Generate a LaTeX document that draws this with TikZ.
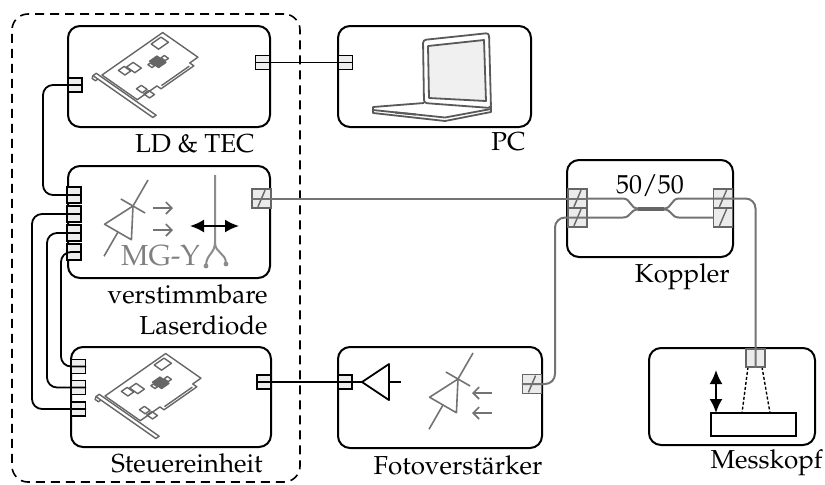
\documentclass[tikz,border=0pt]{standalone}
\usepackage[T1]{fontenc}
\usepackage{mathpazo}
\usetikzlibrary{arrows.meta}

\tikzset{
  box/.style={draw,line width=1pt,rounded corners=6pt,inner sep=0pt},
  eport/.style={draw,fill=black!7,line width=0.7pt,minimum width=7pt,minimum height=7pt,inner sep=0pt},
  fport/.style={draw=black!60,fill=black!8,line width=0.7pt,minimum width=9.5pt,minimum height=9.5pt,inner sep=0pt},
  fslash/.style={fport,path picture={\draw[black!60,line width=0.7pt]
      ([xshift=-1.8pt,yshift=-4.2pt]path picture bounding box.center) --
      ([xshift=1.8pt,yshift=4.2pt]path picture bounding box.center);}},
  wire/.style={line width=0.9pt,rounded corners=5pt},
  fiber/.style={black!55,line width=1pt,rounded corners=5pt},
  sym/.style={black!55,line width=0.8pt},
  lbl/.style={font=\fontsize{13}{15}\selectfont,inner sep=0pt},
  dblarrow/.style={line width=1pt,{Latex[length=7pt,width=6.5pt]}-{Latex[length=7pt,width=6.5pt]}},
  % plug-in card, drawn in an oblique frame
  pcb/.pic={
    \begin{scope}[x={(0.41pt,0.287pt)},y={(0.41pt,-0.287pt)},color=black!60,line width=0.7pt,line join=round]
      \draw (-6,-5) -- (-2,-5) -- (-2,68) -- (-6,68) -- cycle;
      \draw (-6,-5) -- (-9,-3) -- (-9,1) -- (-6,1);
      \draw (0,0) -- (74,0) -- (74,43) -- (64,43) -- (64,48) -- (24,48) -- (24,43) -- (0,43) -- cycle;
      \draw (27,45.5) -- (61,45.5);
      \draw (57,3) -- (69,3) -- (69,12) -- (57,12) -- cycle;
      \draw (14,6) -- (21,6) -- (21,14) -- (14,14) -- cycle;
      \draw (22,8) -- (30,8) -- (30,18) -- (22,18) -- cycle;
      \draw[fill=black!60] (41,17) -- (50,17) -- (50,28) -- (41,28) -- cycle;
      \draw (37,19) -- (40,19) -- (40,24) -- (37,24) -- cycle;
      \draw (51,21) -- (55,21) -- (55,26) -- (51,26) -- cycle;
      \draw (9,33) -- (15,33) -- (15,40) -- (9,40) -- cycle;
      \draw (9,42) -- (15,42) -- (15,49) -- (9,49) -- cycle;
    \end{scope}
  },
  % diode: tip at the origin, axis along x
  diode/.pic={
    \draw[sym] (-58,0) -- (-30,0) (0,0) -- (30,0);
    \draw[sym] (0,-14) -- (0,14);
    \draw[sym,line join=round] (0,0) -- (-30,-15.5) -- (-30,15.5) -- cycle;
  }
}

\begin{document}
\begin{tikzpicture}[x=0.5pt,y=-0.5pt]
\useasboundingbox (0,0) rectangle (825,484);

% dashed group round the electronics
\node[box,dashed,dash pattern=on 4.5pt off 3pt,line width=0.8pt,rounded corners=8pt,
      minimum width=144pt,minimum height=234pt] (group) at (156,248) {};

% boxes
\node[box,minimum width=101pt,minimum height=50.5pt] (ldtec) at (169,76.5) {};
\node[box,minimum width=96.5pt,minimum height=50.5pt] (pc) at (434.5,76.5) {};
\node[box,minimum width=101pt,minimum height=56pt] (laser) at (169,222) {};
\node[box,minimum width=100pt,minimum height=50pt] (steuer) at (171,397) {};
\node[box,minimum width=102pt,minimum height=50.5pt] (foto) at (440,397.5) {};
\node[box,minimum width=83pt,minimum height=48.5pt] (kop) at (650,208.5) {};
\node[box,minimum width=83pt,minimum height=48.5pt] (mess) at (732,396.5) {};

% cards
\pic at (102,75) {pcb};
\pic at (105,396) {pcb};

% laptop
\begin{scope}[black!65,line width=0.9pt,line join=round]
  \draw[rounded corners=1.5pt] (423,40) -- (489,33) -- (491,108) -- (424,103) -- cycle;
  \draw[fill=black!6] (428,46) -- (484,40) -- (486,101) -- (429,98) -- cycle;
  \draw (424,103) -- (373,107) -- (373,113) -- (445,121) -- (491,112) -- (491,106);
  \draw (373,110) -- (445,117.5) -- (491,109);
  \fill (395,111.5) -- (416,113.5) -- (416,115.5) -- (395,113.5) -- cycle;
\end{scope}

% tunable laser
\pic[rotate=60] at (133,206) {diode};
\draw[sym,-{Straight Barb[length=3pt,width=6pt]}] (153,208) -- (173,208);
\draw[sym,-{Straight Barb[length=3pt,width=6pt]}] (153,230) -- (173,230);
\draw[black!45,line width=1pt] (215,175) -- (215,242)
  .. controls (215,254) and (206,254) .. (206,266);
\draw[black!45,line width=1pt] (215,242) .. controls (215,254) and (226,252) .. (226,264);
\fill[black!45] (206,266) circle (1.2pt) (226,264) circle (1.2pt);
\draw[dblarrow] (190,226) -- (239,226);
\node[lbl,anchor=base,text=black!50,font=\fontsize{14.5}{16}\selectfont] (mgy) at (160.5,265) {MG-Y};

% photo receiver
\pic[rotate=60] at (458,379) {diode};
\draw[sym,-{Straight Barb[length=3pt,width=6pt]}] (492,393) -- (472,393);
\draw[sym,-{Straight Barb[length=3pt,width=6pt]}] (492,413) -- (472,413);
\coordinate (amp) at (362,382);
\draw[line width=0.9pt,line join=round] (amp) -- (389,364) -- (389,400) -- cycle;
\draw[line width=0.9pt] (389,382) -- (401,382);

% measuring head
\node[draw,line width=0.8pt,minimum width=42.5pt,minimum height=11.5pt,inner sep=0pt] (sample) at (753.5,424.5) {};
\draw[dashed,dash pattern=on 1.5pt off 1pt,line width=0.7pt] (748,367) -- (742,413) (762,367) -- (770,413);
\draw[dblarrow] (716,370) -- (716,413);

% plugs
\node[eport] (ldtec_r) at (262.5,62.5) {};
\node[eport] (ldtec_l) at (75,85) {};
\node[eport] (pc_l) at (345.5,62.5) {};
\node[eport,minimum height=8pt] (laser_l1) at (74,195) {};
\node[eport,minimum height=8pt] (laser_l2) at (74,214) {};
\node[eport,minimum height=8pt] (laser_l3) at (74,233) {};
\node[eport,minimum height=8pt] (laser_l4) at (74,252) {};
\node[eport] (steuer_l1) at (78.5,366.5) {};
\node[eport] (steuer_l2) at (78.5,387.5) {};
\node[eport] (steuer_l3) at (78.5,409) {};
\node[eport] (steuer_r) at (264,382) {};
\node[eport] (foto_l) at (345,382) {};

% fibre plugs
\node[fslash] (laser_r) at (261.5,198.5) {};
\node[fslash] (kop_l1) at (577.5,198.5) {};
\node[fslash] (kop_l2) at (577.5,217.5) {};
\node[fslash] (kop_r1) at (723,198.5) {};
\node[fslash] (kop_r2) at (723,217.5) {};
\node[fslash] (foto_r) at (532,384) {};
\node[fport,minimum height=9pt] (mess_p) at (755.5,358) {};

% cables
\coordinate (rail1) at (43,0);
\coordinate (rail2) at (32,0);
\coordinate (rail3) at (47,0);
\coordinate (rail4) at (61,0);
\draw[wire] (ldtec_r.west) -- (pc_l.east);
\draw[wire] (ldtec_l.east) -- (ldtec_l.east -| rail1) -- (laser_l1.east -| rail1) -- (laser_l1.east);
\draw[wire] (laser_l2.east) -- (laser_l2.east -| rail2) -- (steuer_l3.east -| rail2) -- (steuer_l3.east);
\draw[wire] (laser_l3.east) -- (laser_l3.east -| rail3) -- (steuer_l2.east -| rail3) -- (steuer_l2.east);
\draw[wire] (laser_l4.east) -- (laser_l4.east -| rail4) -- (steuer_l1.east -| rail4) -- (steuer_l1.east);
\draw[wire] (steuer_r.west) -- (foto_l.east) -- (amp);

% fibres
\coordinate (frail) at (555,0);
\draw[fiber] (laser_r.west) -- (kop_l1.east);
\draw[fiber] (kop_l2.east) -| (foto_r.west -| frail) -- (foto_r.west);
\draw[fiber] (kop_r1.west) -| (mess_p.south);
\draw[fiber,rounded corners=0pt] (kop_l1.east) -- (623,198.5) .. controls (631,198.5) and (630,208.5) .. (638,208.5)
  -- (664,208.5) .. controls (672,208.5) and (671,198.5) .. (679,198.5) -- (kop_r1.west);
\draw[fiber,rounded corners=0pt] (kop_l2.east) -- (623,217.5) .. controls (631,217.5) and (630,209.5) .. (638,209.5)
  -- (664,209.5) .. controls (672,209.5) and (671,217.5) .. (679,217.5) -- (kop_r2.west);
\draw[black!60,line width=1.6pt] (638,209) -- (664,209);

% labels
\node[lbl,anchor=base east] (ldtec_t) at (255,152) {LD \& TEC};
\node[lbl,anchor=base east] (pc_t) at (526,150) {PC};
\node[lbl,anchor=base east] (laser_t1) at (268,303) {verstimmbare};
\node[lbl,anchor=base east] (laser_t2) at (268,334) {Laserdiode};
\node[lbl,anchor=base east] (steuer_t) at (263,472) {Steuereinheit};
\node[lbl,anchor=base] (foto_t) at (458,474) {Fotoverst\"arker};
\node[lbl,anchor=base east] (kop_t) at (730,282) {Koppler};
\node[lbl,anchor=base east] (mess_t) at (823,468) {Messkopf};
\node[lbl,anchor=base] (ratio) at (650,193) {50/50};
\end{tikzpicture}
\end{document}
